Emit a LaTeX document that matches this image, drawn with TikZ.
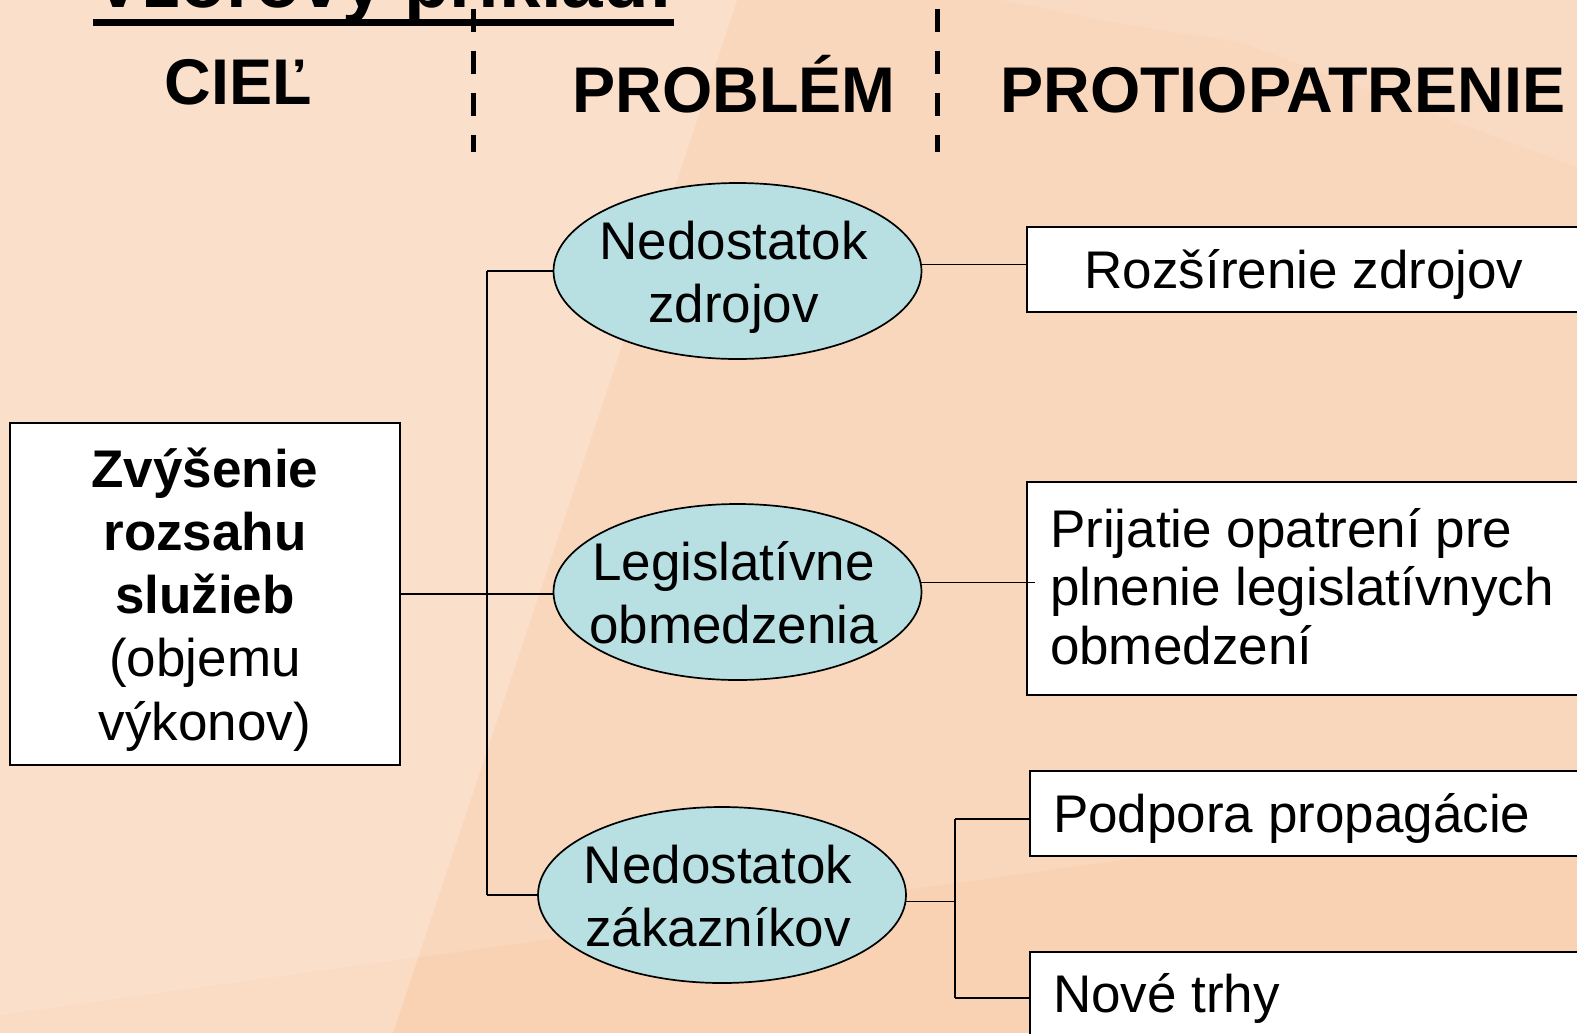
\documentclass[tikz,border=0pt]{standalone}
\usepackage{fontspec}
\setmainfont{Liberation Sans}
\usetikzlibrary{shapes.geometric,calc}
\definecolor{bgbase}{HTML}{F9D2B4}
\definecolor{ellfill}{HTML}{B8DFE2}
\begin{document}
\begin{tikzpicture}[x=0.5pt,y=-0.5pt,
  conn/.style={line width=0.85pt},
  divider/.style={line width=2.5pt, dash pattern=on 11.75pt off 9.25pt},
  heading/.style={inner sep=0pt, font=\fontsize{32.3pt}{38pt}\selectfont\bfseries},
  ell/.style={ellipse, draw, line width=0.85pt, fill=ellfill, inner sep=0pt,
    minimum width=184pt, minimum height=88pt, text height=20pt, text depth=31.5pt,
    font=\fontsize{26.5pt}{31.5pt}\selectfont},
  goalbox/.style={draw, fill=white, line width=1pt, inner sep=0pt, anchor=base,
    minimum width=195pt, font=\fontsize{26.5pt}{31.65pt}\selectfont},
  rbox/.style={draw, fill=white, line width=1pt, inner xsep=11.5pt, inner ysep=0pt,
    anchor=base west, font=\fontsize{26.5pt}{29.25pt}\selectfont}]
\useasboundingbox (0,0) rectangle (1577,1033);
\clip (0,0) rectangle (1577,1033);
% background
\fill[bgbase] (0,0) rectangle (1577,1033);
\fill[white, opacity=0.22] (0,0) -- (737,0) -- (393,1033) -- (0,1033) -- cycle;
\fill[white, opacity=0.13] (0,0) -- (1577,0) -- (1577,797) -- (0,1015) -- cycle;
\fill[white, opacity=0.08] (1000,0) -- (1577,0) -- (1577,167) -- (1243,43) -- (1100,20) -- cycle;
% title
\node[anchor=base west, inner sep=0pt, font=\fontsize{37.3pt}{44pt}\selectfont\bfseries] (title) at (93,8) {Vzorový príklad:};
\draw[line width=3.5pt] ([yshift=-7pt]title.base west) -- ([yshift=-7pt]title.base east);
% dividers
\draw[divider] (473,8.5) -- (473,152);
\draw[divider] (937,8.5) -- (937,152);
% headings
\node[heading, anchor=base] (h1) at (238,104) {CIEĽ};
\node[heading, anchor=base] (h2) at (734,112) {PROBLÉM};
\node[heading, anchor=base west] (h3) at (1000,112) {PROTIOPATRENIE};
% goal
\node[goalbox, text height=32pt, text depth=139pt] (goal) at (205,487)
  {\begin{tabular}[t]{@{}c@{}}\bfseries Zvýšenie\\ \bfseries rozsahu\\ \bfseries služieb\\ (objemu\\ výkonov)\end{tabular}};
% problems
\node[ell] (e1) at (737.5,271) {\makebox[0pt]{\hspace*{-4pt}\begin{tabular}[t]{@{}c@{}}Nedostatok\\ zdrojov\end{tabular}}};
\node[ell] (e2) at (737.5,592) {\makebox[0pt]{\hspace*{-4pt}\begin{tabular}[t]{@{}c@{}}Legislatívne\\ obmedzenia\end{tabular}}};
\node[ell] (e3) at (722,895) {\makebox[0pt]{\hspace*{-4pt}\begin{tabular}[t]{@{}c@{}}Nedostatok\\ zákazníkov\end{tabular}}};
% measures
\node[rbox, text height=30.5pt, text depth=12pt] (r1) at (1026,288) {\makebox[254pt][c]{Rozšírenie zdrojov}};
\node[rbox, text height=32.5pt, text depth=74pt] (r2) at (1026,547)
  {\makebox[300pt][l]{\begin{tabular}[t]{@{}l@{}}Prijatie opatrení pre\\ plnenie legislatívnych\\ obmedzení\end{tabular}}};
\node[rbox, text height=30.5pt, text depth=12pt] (r3) at (1029,832) {\makebox[300pt][l]{Podpora propagácie}};
\node[rbox, text height=30pt, text depth=16pt] (r4) at (1029,1012) {\makebox[300pt][l]{Nové trhy}};
% connectors
\coordinate (jl) at (486.8,0);
\coordinate (jr) at (955,0);
\coordinate (r3w) at ($(r3.west)+(0,5.5)$);
\draw[conn] (goal.east) -- (goal.east -| e2.west);
\draw[conn] (e1.west -| jl) -- (e3.west -| jl);
\draw[conn] (e1.west -| jl) -- (e1.west);
\draw[conn] (e3.west -| jl) -- (e3.west);
\draw[conn] (e1.2) -- (e1.2 -| r1.west);
\draw[conn] (e2.3) -- ($(e2.3 -| r2.west)+(9,0)$);
\draw[conn] (e3.-2) -- (e3.-2 -| jr);
\draw[conn] (r3w -| jr) -- (r4.west -| jr);
\draw[conn] (r3w -| jr) -- (r3w);
\draw[conn] (r4.west -| jr) -- (r4.west);
\end{tikzpicture}
\end{document}
